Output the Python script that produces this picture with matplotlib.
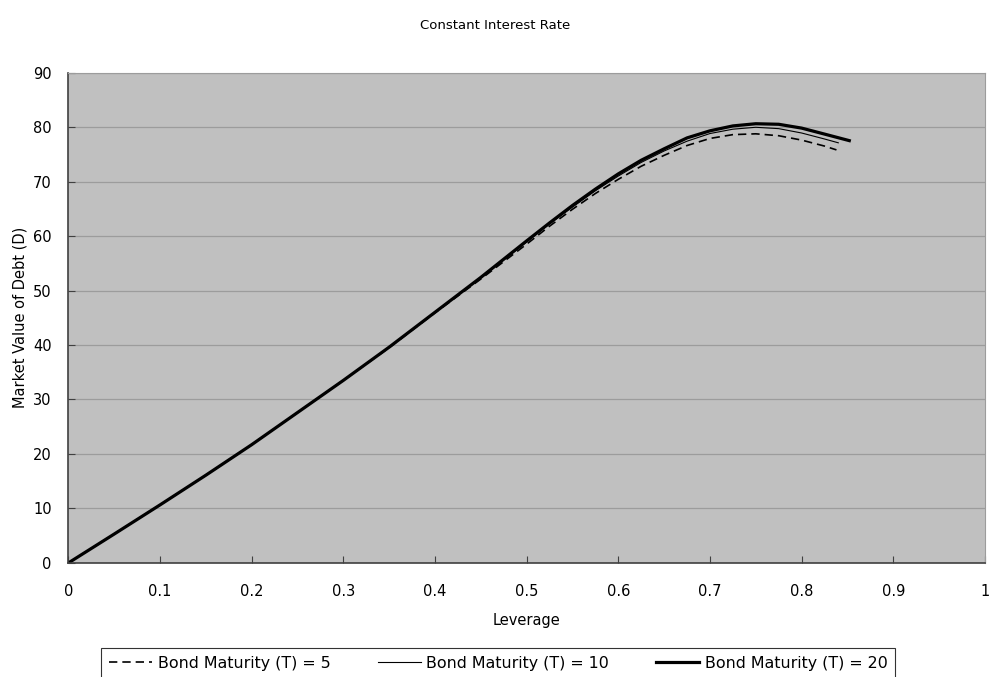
import matplotlib
matplotlib.use("Agg")
from matplotlib import pyplot as plt

# leverage vs. market value of debt for three bond maturities
lev_t5 = [0, 0.05, 0.1, 0.15, 0.2, 0.25, 0.3, 0.35, 0.4, 0.45, 0.5, 0.525,
          0.55, 0.575, 0.6, 0.625, 0.65, 0.675, 0.7, 0.725, 0.75, 0.775, 0.8,
          0.825, 0.838]
debt_t5 = [0, 5.3, 10.65, 16.1, 21.7, 27.6, 33.5, 39.5, 45.9, 52.1, 58.5, 61.8,
           64.9, 67.8, 70.4, 72.8, 74.8, 76.6, 77.9, 78.6, 78.75, 78.4, 77.6,
           76.5, 75.8]

lev_t10 = [0, 0.05, 0.1, 0.15, 0.2, 0.25, 0.3, 0.35, 0.4, 0.45, 0.5, 0.525,
           0.55, 0.575, 0.6, 0.625, 0.65, 0.675, 0.7, 0.725, 0.75, 0.775, 0.8,
           0.825, 0.84]
debt_t10 = [0, 5.3, 10.65, 16.1, 21.7, 27.6, 33.5, 39.6, 46.0, 52.3, 58.9, 62.2,
            65.3, 68.3, 71.0, 73.5, 75.6, 77.4, 78.8, 79.6, 79.95, 79.7, 78.9,
            77.8, 77.1]

lev_t20 = [0, 0.05, 0.1, 0.15, 0.2, 0.25, 0.3, 0.35, 0.4, 0.45, 0.5, 0.525,
           0.55, 0.575, 0.6, 0.625, 0.65, 0.675, 0.7, 0.725, 0.75, 0.775, 0.8,
           0.825, 0.852]
debt_t20 = [0, 5.3, 10.65, 16.1, 21.7, 27.6, 33.5, 39.6, 46.0, 52.4, 59.1, 62.4,
            65.6, 68.6, 71.4, 73.9, 76.0, 78.0, 79.3, 80.2, 80.6, 80.5, 79.8,
            78.7, 77.5]

x_ticks = [0, 0.1, 0.2, 0.3, 0.4, 0.5, 0.6, 0.7, 0.8, 0.9, 1]
x_tick_labels = ["0", "0.1", "0.2", "0.3", "0.4", "0.5", "0.6", "0.7", "0.8", "0.9", "1"]
y_ticks = [0, 10, 20, 30, 40, 50, 60, 70, 80, 90]

plt.rcParams["font.family"] = "DejaVu Sans"

fig = plt.figure(figsize=(9.91, 6.77), dpi=100)
ax = fig.add_axes([0.0689, 0.1684, 0.925, 0.7245])
ax.set_facecolor("#c0c0c0")

ax.plot(lev_t5, debt_t5, color="black", linewidth=1.2, dashes=(5, 3),
        dash_joinstyle="round", label="Bond Maturity (T) = 5")
ax.plot(lev_t10, debt_t10, color="black", linewidth=0.8,
        solid_joinstyle="round", label="Bond Maturity (T) = 10")
ax.plot(lev_t20, debt_t20, color="black", linewidth=2.3,
        solid_joinstyle="round", label="Bond Maturity (T) = 20")

ax.set_xlim(0, 1)
ax.set_ylim(0, 90)
ax.set_xticks(x_ticks)
ax.set_xticklabels(x_tick_labels)
ax.set_yticks(y_ticks)
ax.tick_params(direction="in", length=5, labelsize=10.5, colors="#404040",
               labelcolor="black")
ax.tick_params(axis="x", pad=15)
ax.tick_params(axis="y", pad=12)
ax.yaxis.grid(True, color="#9c9c9c", linewidth=0.9)
ax.set_axisbelow(True)

for side in ["top", "right"]:
    ax.spines[side].set_color("#9c9c9c")
for side in ["left", "bottom"]:
    ax.spines[side].set_color("#404040")
    ax.spines[side].set_linewidth(1.2)

ax.set_xlabel("Leverage", fontsize=10.5, labelpad=10)
ax.set_ylabel("Market Value of Debt (D)", fontsize=10.5, labelpad=4)
fig.text(0.5, 0.963, "Constant Interest Rate", ha="center", va="center", fontsize=9.5)

leg = fig.legend(loc="upper center", bbox_to_anchor=(0.503, 0.043), ncol=3,
                 frameon=True, fancybox=False, edgecolor="black", fontsize=11.4,
                 handlelength=2.7, handletextpad=0.35, columnspacing=3.0,
                 borderpad=0.5, borderaxespad=0)
leg.get_frame().set_linewidth(0.8)

fig.savefig("out.png", dpi=100)
